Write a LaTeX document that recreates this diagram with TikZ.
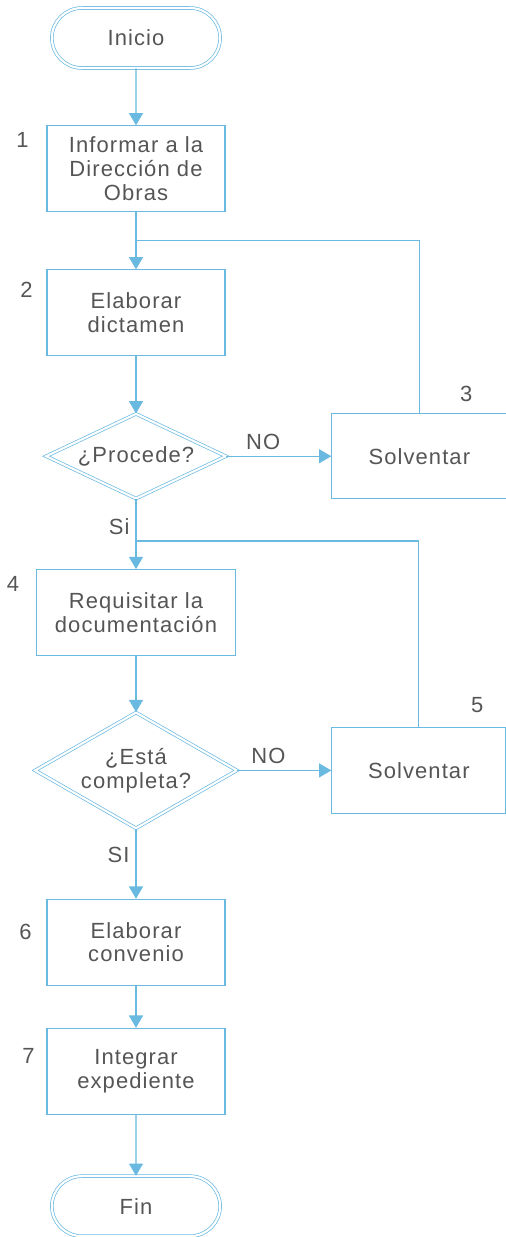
\documentclass[tikz,border=0pt]{standalone}
\usepackage{fontspec}
\setmainfont{Liberation Sans}[LetterSpace=5]
\usetikzlibrary{positioning,shapes.geometric,shapes.misc,arrows.meta}
\definecolor{lineblue}{RGB}{105,185,225}
\definecolor{textgray}{RGB}{85,85,85}

\begin{document}
\begin{tikzpicture}[
    x=0.02cm, y=-0.02cm,
    font=\fontsize{12.5}{13.5}\selectfont,
    text=textgray,
    >={Triangle[width=8pt,length=7pt]},
    terminal/.style={rounded rectangle, draw=lineblue, double=white, double distance=1.2pt, minimum width=3.6cm, minimum height=1.2cm},
    process/.style={rectangle, draw=lineblue, line width=0.6pt, align=center, minimum width=3.56cm, minimum height=1.72cm},
    decision/.style={diamond, draw=lineblue, double=white, double distance=1.2pt, align=center, inner sep=0pt},
    num/.style={inner sep=0pt},
    arrow/.style={->, draw=lineblue, line width=0.7pt},
    link/.style={draw=lineblue, line width=0.7pt}
]
    \useasboundingbox (0,0) rectangle (506,1237);

    % Start
    \node (inicio) [terminal] at (136,38) {Inicio};

    % Main steps
    \node (informar) [process, below=1.14cm of inicio] {Informar a la\\Dirección de\\Obras};
    \node (dictamen) [process, below=1.14cm of informar] {Elaborar\\dictamen};
    \node (procede) [decision, below=1.14cm of dictamen, minimum width=3.6cm, minimum height=1.7cm, aspect=2.12] {¿Procede?};
    \node (requisitar) [process, below=1.40cm of procede, minimum width=3.98cm] {Requisitar la\\documentación};
    \node (completa) [decision, below=1.12cm of requisitar, minimum width=4.04cm, minimum height=2.32cm, aspect=1.74] {¿Está\\completa?};
    \node (convenio) [process, below=1.40cm of completa] {Elaborar\\convenio};
    \node (expediente) [process, below=0.84cm of convenio] {Integrar\\expediente};

    % End
    \node (fin) [terminal, below=1.22cm of expediente] {Fin};

    % Side steps
    \node (solv1) [process, right=2.1cm of procede, minimum width=3.5cm, minimum height=1.7cm] {Solventar};
    \node (solv2) [process, right=1.88cm of completa, minimum width=3.48cm] {Solventar};

    % Step numbers
    \node [num] at ([xshift=-0.48cm, yshift=-0.3cm]informar.north west) {1};
    \node [num] at ([xshift=-0.4cm, yshift=-0.4cm]dictamen.north west) {2};
    \node [num] at ([xshift=-0.82cm, yshift=0.38cm]solv1.north east) {3};
    \node [num] at ([xshift=-0.46cm, yshift=-0.3cm]requisitar.north west) {4};
    \node [num] at ([xshift=-0.58cm, yshift=0.44cm]solv2.north east) {5};
    \node [num] at ([xshift=-0.42cm, yshift=-0.66cm]convenio.north west) {6};
    \node [num] at ([xshift=-0.36cm, yshift=-0.56cm]expediente.north west) {7};

    % Arrows
    \draw [arrow] (inicio) -- (informar);
    \draw [arrow] (informar) -- coordinate[midway] (j1) (dictamen);
    \draw [arrow] (dictamen) -- (procede);
    \draw [arrow] (procede) -- node[above, pos=0.35] {NO} (solv1);
    \draw [link] (solv1.north) |- (j1);
    \draw [arrow] (procede) -- node[left, pos=0.4] {Si} coordinate[pos=0.6] (j2) (requisitar);
    \draw [link] (solv2.north) |- (j2);
    \draw [arrow] (requisitar) -- (completa);
    \draw [arrow] (completa) -- node[above, pos=0.33] {NO} (solv2);
    \draw [arrow] (completa) -- node[left, pos=0.38] {SI} (convenio);
    \draw [arrow] (convenio) -- (expediente);
    \draw [arrow] (expediente) -- (fin);

\end{tikzpicture}
\end{document}
